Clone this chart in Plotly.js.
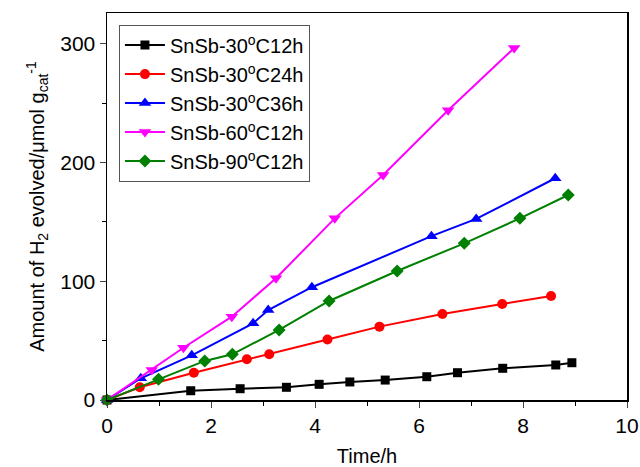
<!DOCTYPE html>
<html><head><meta charset="utf-8">
<script src="https://cdn.plot.ly/plotly-3.0.1.min.js"></script>
<style>html,body{margin:0;padding:0;background:#fff}#chart{width:640px;height:467px}</style>
</head><body><div id="chart"></div>
<script>
const seriesNames = ["SnSb-30<sup>o</sup>C12h","SnSb-30<sup>o</sup>C24h","SnSb-30<sup>o</sup>C36h","SnSb-60<sup>o</sup>C12h","SnSb-90<sup>o</sup>C12h"];
const t30c12 = [0, 1.61, 2.56, 3.45, 4.08, 4.67, 5.35, 6.15, 6.74, 7.61, 8.63, 8.94];
const h30c12 = [0, 7.8, 9.5, 10.7, 13.2, 15.2, 16.8, 19.6, 23.0, 26.7, 29.5, 31.4];
const t30c24 = [0, 0.63, 1.67, 2.69, 3.12, 4.24, 5.24, 6.45, 7.60, 8.54];
const h30c24 = [0, 10.7, 23.0, 34.3, 38.5, 51.0, 61.8, 72.5, 80.9, 87.6];
const t30c36 = [0, 0.65, 1.63, 2.81, 3.10, 3.94, 6.24, 7.10, 8.62];
const h30c36 = [0, 18.3, 37.6, 64.6, 75.8, 95.0, 138.0, 152.5, 186.8];
const t60c12 = [0, 0.86, 1.47, 2.40, 3.25, 4.38, 5.31, 6.56, 7.83];
const h60c12 = [0, 25.3, 44.0, 70.2, 102.5, 153.0, 189.6, 244.0, 296.5];
const t90c12 = [0, 0.99, 1.88, 2.41, 3.31, 4.27, 5.58, 6.87, 7.94, 8.87];
const h90c12 = [0, 17.4, 32.9, 38.5, 59.0, 83.4, 108.7, 132.0, 153.0, 172.7];

const colors = ["#000000","#ff0000","#0000ff","#ff00ff","#008000"];
const symbols = ["square","circle","triangle-up","triangle-down","diamond"];
const sizes = [9,10,11,11,10];
const xs = [t30c12,t30c24,t30c36,t60c12,t90c12];
const ys = [h30c12,h30c24,h30c36,h60c12,h90c12];

const data = xs.map((x,i)=>({
  x: x, y: ys[i], name: seriesNames[i], type:'scatter', mode:'lines+markers',
  line:{color:colors[i], width:2},
  marker:{color:colors[i], symbol:symbols[i], size:sizes[i]},
  cliponaxis:false
}));

const layout = {
  width:640, height:467,
  margin:{l:107, r:13, t:13, b:67},
  paper_bgcolor:'#fff', plot_bgcolor:'#fff',
  font:{family:'Liberation Sans, Arial, sans-serif', color:'#000', size:20},
  showlegend:true,
  legend:{x:0.023, y:0.97, xanchor:'left', yanchor:'top', bordercolor:'#555', borderwidth:1, bgcolor:'#fff',
          font:{size:20}, tracegroupgap:0, itemwidth:40},
  xaxis:{range:[0,10], dtick:2, ticks:'outside', ticklen:6, tickwidth:1, showline:true, mirror:true, linecolor:'#000', linewidth:1.5,
         showgrid:false, zeroline:false, tickfont:{size:21},
         minor:{dtick:1, ticks:'outside', ticklen:4, tickcolor:'#000'},
         title:{text:'Time/h', font:{size:20}, standoff:13}},
  yaxis:{range:[0,326], dtick:100, ticks:'outside', ticklen:6, tickwidth:1, showline:true, mirror:true, linecolor:'#000', linewidth:1.5,
         showgrid:false, zeroline:false, tickfont:{size:21},
         minor:{dtick:50, ticks:'outside', ticklen:4, tickcolor:'#000'},
         title:{text:'Amount of H<sub>2</sub> evolved/μmol g<sub>cat</sub><sup>-1</sup>', font:{size:20}, standoff:10}}
};
Plotly.newPlot('chart', data, layout, {displayModeBar:false, staticPlot:true});
</script></body></html>
